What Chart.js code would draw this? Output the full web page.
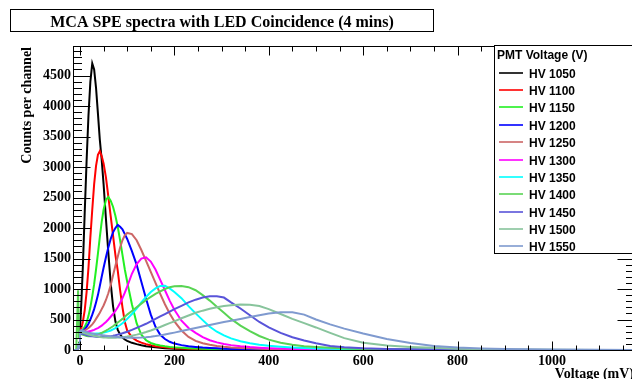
<!DOCTYPE html>
<html><head><meta charset="utf-8">
<script src="https://cdn.jsdelivr.net/npm/chart.js@4"></script>
<style>html,body{margin:0;padding:0;overflow:hidden;background:#fff;width:632px;height:379px}canvas{display:block}</style>
</head><body>
<canvas id="c" width="636" height="379" style="width:636px;height:379px"></canvas>
<script>
// Channel voltages (mV)
const xs = [-15,-8,-4,-2,0,3,6,10,14,18,22,26,30,34,38,42,46,50,55,60,65,70,75,80,85,90,95,100,110,120,130,140,150,160,170,180,190,200,215,230,245,260,275,290,305,320,340,360,380,400,425,450,475,500,530,560,600,650,700,750,800,850,900,1000,1100,1174];

const hv1050 = [0,0,20,120,330,800,1350,2250,3100,3850, 4400,4700,4600,4300,3880,3450,3120,2720,2150,1600, 1100,720,470,330,255,205,172,150,118,96, 78,63,52,43,36,30,25,21,17,13, 11,9,7,6,5,4,3,3,2,2, 1,1,1,1,0,0,0,0,0,0, 0,0,0,0,0,0];
const hv1100 = [0,0,15,100,300,360,460,650,950,1350, 1850,2300,2720,3020,3200,3260,3180,3060,2830,2520, 2200,1880,1560,1300,980,700,460,320,210,155, 120,96,78,63,52,43,36,30,24,19, 15,12,10,8,7,6,5,4,3,3, 2,2,1,1,1,0,0,0,0,0, 0,0,0,0,0,0];
const hv1150 = [0,0,20,110,290,320,330,380,450,560, 700,880,1080,1320,1580,1850,2100,2300,2460,2510, 2450,2350,2200,2020,1800,1560,1320,1120,750,440, 250,160,115,90,73,60,50,43,35,29, 24,20,17,14,12,10,8,7,6,5, 4,3,3,2,2,1,1,1,0,0, 0,0,0,0,0,0];
const hv1200 = [0,0,15,100,280,310,320,340,380,430, 500,580,670,780,900,1050,1200,1350,1520,1680, 1820,1930,2000,2050,2020,1980,1900,1820,1620,1400, 1120,840,580,380,250,180,135,105,80,62, 50,40,33,27,22,18,15,12,10,8, 6,5,4,3,2,2,1,1,0,0, 0,0,0,0,0,0];
const hv1250 = [0,0,15,100,280,300,310,320,340,360, 390,420,460,510,560,610,670,730,820,930, 1060,1220,1380,1530,1680,1800,1880,1920,1900,1800, 1640,1460,1280,1100,920,750,600,470,320,215, 150,110,85,66,53,43,34,27,22,18, 14,11,9,7,5,4,3,2,1,1, 0,0,0,0,0,0];
const hv1300 = [0,0,15,100,280,300,300,300,300,305, 310,320,330,345,360,380,400,425,460,500, 545,590,640,700,770,850,940,1040,1250,1410, 1500,1520,1450,1320,1150,980,810,660,480,360, 280,210,160,125,100,80,62,48,38,30, 23,18,14,11,8,6,4,3,2,1, 1,0,0,0,0,0];
const hv1350 = [0,0,15,100,270,290,290,285,280,275, 270,268,268,270,272,275,280,285,295,305, 320,340,360,385,410,440,470,510,590,680, 780,870,950,1010,1050,1055,1010,950,850,720, 600,490,380,300,240,190,145,110,85,68, 52,40,32,25,19,15,10,7,5,3, 2,1,1,0,0,0];
const hv1400 = [0,0,980,200,260,260,250,240,230,225, 225,228,235,245,255,268,282,298,318,340, 365,390,420,450,480,510,545,580,640,700, 760,820,870,920,960,1000,1030,1045,1050,1030, 980,900,810,710,610,510,400,310,230,170, 120,85,62,48,35,26,18,12,8,6, 4,3,2,1,0,0];
const hv1450 = [0,0,15,100,260,270,265,255,245,238, 230,225,220,216,213,212,212,213,216,220, 226,233,242,252,262,274,287,300,330,362, 395,430,470,510,550,590,630,670,725,780, 825,860,880,880,860,780,680,570,460,370, 280,210,155,110,65,45,28,18,11,7, 4,3,2,1,0,0];
const hv1500 = [0,0,15,100,270,290,285,275,265,255, 245,237,230,224,218,213,209,206,203,201, 200,200,201,203,206,210,215,220,235,252, 272,295,320,348,378,410,440,470,520,565, 610,645,675,700,720,735,745,740,720,670, 590,510,440,370,280,195,120,72,50,35, 22,14,9,4,2,1];
const hv1550 = [0,0,15,100,300,330,320,305,295,285, 278,272,266,260,255,250,245,240,235,230, 225,220,216,212,208,205,203,201,200,201, 204,210,218,228,240,255,270,285,310,335, 360,385,410,435,458,480,510,540,570,600, 620,620,580,500,420,350,270,180,115,65, 40,26,17,7,3,2];

const seriesLabels = ['HV 1050','HV 1100','HV 1150','HV 1200','HV 1250','HV 1300','HV 1350','HV 1400','HV 1450','HV 1500','HV 1550'];
const xTickValues = [0,200,400,600,800,1000];
const yTickValues = [0,500,1000,1500,2000,2500,3000,3500,4000,4500];
const chartTitle = 'MCA SPE spectra with LED Coincidence (4 mins)';
const xTitle = 'Voltage (mV)';
const yTitle = 'Counts per channel';
const legendTitle = 'PMT Voltage (V)';

const seriesValues = [hv1050,hv1100,hv1150,hv1200,hv1250,hv1300,hv1350,hv1400,hv1450,hv1500,hv1550];
const seriesColors = ['#000000','#ff0000','#22f022','#0000ff','#cc6666','#ff00ff','#00ffff','#59d454','#5954d9','#88c49c','#7f9acf'];

const SERIF = '"Liberation Serif","Times New Roman",serif';
const SANS = '"Liberation Sans",Arial,sans-serif';

const datasets = seriesValues.map((vals, i) => ({
  label: seriesLabels[i],
  data: xs.map((x, j) => ({x: x, y: vals[j]})),
  borderColor: seriesColors[i],
  backgroundColor: seriesColors[i],
  borderWidth: 2,
  pointRadius: 0,
  tension: 0,
  fill: false,
  order: seriesValues.length - 1 - i
}));

const rootDecor = {
  id: 'rootDecor',
  afterDatasetsDraw(chart) {
    const ctx = chart.ctx, a = chart.chartArea, x = chart.scales.x, y = chart.scales.y;
    ctx.save();
    ctx.strokeStyle = '#000';
    ctx.lineWidth = 1;
    const L = Math.round(a.left) + 0.5, T = Math.round(a.top) + 0.5, B = Math.round(a.bottom) + 0.5, R = Math.round(a.right) + 0.5;
    ctx.strokeRect(L, T, R - L, B - T);
    ctx.beginPath();
    for (let v = 0; v <= x.max; v += 50) {
      const px = Math.round(x.getPixelForValue(v)) + 0.5;
      const len = (v % 200 === 0) ? 9 : 5;
      ctx.moveTo(px, B); ctx.lineTo(px, B - len);
      ctx.moveTo(px, T); ctx.lineTo(px, T + len);
    }
    for (let v = 0; v <= y.max; v += 100) {
      const py = Math.round(y.getPixelForValue(v)) + 0.5;
      const len = (v % 500 === 0) ? 17 : 8.5;
      ctx.moveTo(L, py); ctx.lineTo(L + len, py);
      ctx.moveTo(R, py); ctx.lineTo(R - len, py);
    }
    ctx.stroke();

    // axis titles
    ctx.fillStyle = '#000';
    ctx.font = 'bold 14px ' + SERIF;
    ctx.textAlign = 'right';
    ctx.textBaseline = 'alphabetic';
    ctx.fillText(xTitle, 634, 378);
    ctx.save();
    ctx.translate(31, 47);
    ctx.rotate(-Math.PI / 2);
    ctx.fillText(yTitle, 0, 0);
    ctx.restore();

    // title box
    ctx.fillStyle = '#fff';
    ctx.fillRect(10.5, 9.5, 423, 22);
    ctx.strokeRect(10.5, 9.5, 423, 22);
    ctx.fillStyle = '#000';
    ctx.font = 'bold 16px ' + SERIF;
    ctx.textAlign = 'center';
    ctx.fillText(chartTitle, 222, 26.5);

    // legend
    ctx.fillStyle = '#fff';
    ctx.fillRect(494.5, 45.5, 160, 208);
    ctx.strokeRect(494.5, 45.5, 160, 208);
    ctx.fillStyle = '#000';
    ctx.font = 'bold 12px ' + SANS;
    ctx.textAlign = 'left';
    ctx.fillText(legendTitle, 497, 58.5);
    chart.data.datasets.forEach((ds, i) => {
      const yy = Math.round(72.7 + i * 17.36);
      ctx.strokeStyle = ds.borderColor;
      ctx.lineWidth = 1.6;
      ctx.beginPath();
      ctx.moveTo(499, yy); ctx.lineTo(523, yy);
      ctx.stroke();
      ctx.fillStyle = '#000';
      ctx.fillText(ds.label, 529, yy + 4.5);
    });
    ctx.restore();
  }
};

new Chart(document.getElementById('c'), {
  type: 'line',
  data: {datasets: datasets},
  options: {
    responsive: false,
    animation: false,
    devicePixelRatio: 1,
    layout: {padding: {left: 0, top: 46, right: 2, bottom: 0}},
    plugins: {legend: {display: false}, tooltip: {enabled: false}, title: {display: false}},
    scales: {
      x: {
        type: 'linear', min: -14.8, max: 1173.8,
        afterFit(s) { s.height = 29; },
        afterBuildTicks(s) { s.ticks = xTickValues.map(v => ({value: v})); },
        ticks: {font: {family: SERIF, weight: 'bold', size: 14}, color: '#000', padding: 3, maxRotation: 0, autoSkip: false, callback: v => String(v)},
        grid: {display: false, drawTicks: false},
        border: {display: false}
      },
      y: {
        type: 'linear', min: 0, max: 4985,
        afterFit(s) { s.width = 73; },
        afterBuildTicks(s) { s.ticks = yTickValues.map(v => ({value: v})); },
        ticks: {font: {family: SERIF, weight: 'bold', size: 14}, color: '#000', padding: 2, autoSkip: false, callback: v => String(v)},
        grid: {display: false, drawTicks: false},
        border: {display: false}
      }
    }
  },
  plugins: [rootDecor]
});
</script>
</body></html>
